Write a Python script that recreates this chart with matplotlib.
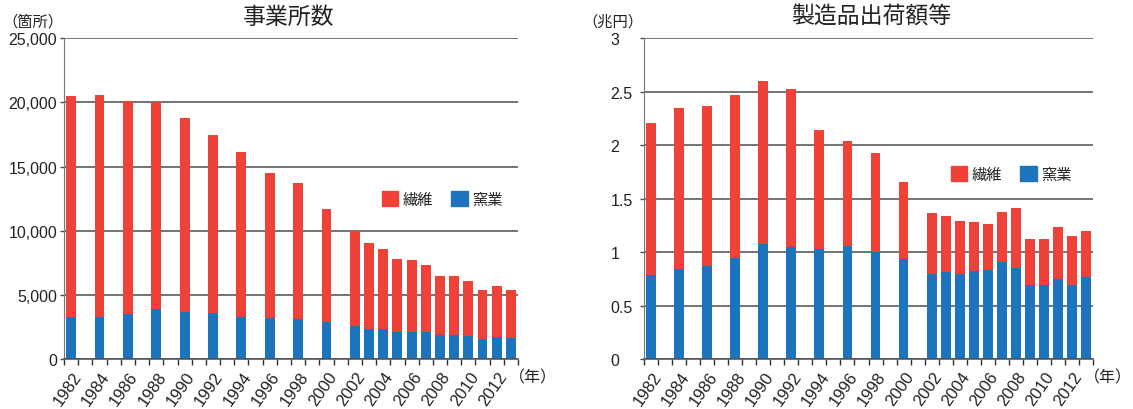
import matplotlib.pyplot as plt
import matplotlib.transforms as mtransforms
from matplotlib.patches import Patch
from matplotlib.ticker import FuncFormatter

plt.rcParams['font.family'] = ['Liberation Sans', 'Noto Sans CJK JP']
CJK = ['Noto Sans CJK JP', 'DejaVu Sans']

years = [1982, 1984, 1986, 1988, 1990, 1992, 1994, 1996, 1998, 2000,
         2002, 2003, 2004, 2005, 2006, 2007, 2008, 2009, 2010, 2011, 2012, 2013]

# 事業所数 (箇所)
est_ceramic = [3300, 3300, 3500, 3920, 3660, 3610, 3300, 3200, 3140, 2880,
               2570, 2360, 2360, 2100, 2100, 2100, 1890, 1890, 1790, 1580, 1740, 1640]
est_textile = [17200, 17300, 16600, 16080, 15140, 13840, 12850, 11300, 10560, 8820,
               7380, 6690, 6210, 5700, 5620, 5230, 4610, 4610, 4290, 3800, 3980, 3740]

# 製造品出荷額等 (兆円)
ship_ceramic = [0.79, 0.845, 0.87, 0.945, 1.075, 1.05, 1.03, 1.055, 1.0, 0.94,
                0.795, 0.815, 0.795, 0.825, 0.835, 0.907, 0.85, 0.692, 0.692, 0.748, 0.692, 0.767]
ship_textile = [1.42, 1.505, 1.50, 1.525, 1.525, 1.475, 1.11, 0.985, 0.925, 0.715,
                0.57, 0.523, 0.495, 0.457, 0.428, 0.468, 0.562, 0.433, 0.433, 0.487, 0.458, 0.43]

label_years = list(range(1982, 2013, 2))
series_names = ['繊維', '窯業']

red = '#EE4137'
blue = '#1C75BC'
grid_c = '#4d4d4d'
text_c = '#222222'

W, H = 1133, 410
fig = plt.figure(figsize=(W / 100, H / 100), dpi=100)


def px_axes(x0, x1, y0, y1):
    return fig.add_axes([x0 / W, 1 - y1 / H, (x1 - x0) / W, (y1 - y0) / H])


def setup(ax, ceramic, textile, ymax, yticks, fmt, title, unit, title_x, unit_x,
          leg_x, leg_y, right_labels):
    ax.bar(years, ceramic, width=0.7, color=blue, zorder=3)
    ax.bar(years, textile, width=0.7, bottom=ceramic, color=red, zorder=3)
    ax.set_xlim(1981.5, 2013.5)
    ax.set_ylim(0, ymax)
    ax.set_yticks(yticks)
    ax.yaxis.set_major_formatter(FuncFormatter(fmt))
    ax.grid(axis='y', color=grid_c, linewidth=1.1, zorder=1)
    for s in ['top', 'right']:
        ax.spines[s].set_visible(False)
    ax.spines['left'].set_color('#777777')
    ax.spines['bottom'].set_color(grid_c)
    ax.spines['bottom'].set_linewidth(1.1)
    ax.spines['bottom'].set_zorder(4)
    ax.set_xticks(label_years)
    ax.set_xticks([y + 0.5 for y in range(1981, 2014)], minor=True)
    ax.tick_params(axis='x', which='major', length=0, pad=10, labelsize=12)
    ax.tick_params(axis='x', which='minor', length=4, width=1, color='#333333')
    ax.tick_params(axis='y', length=3, width=1, color=grid_c, labelsize=11.5,
                   pad=21 if right_labels else 2, labelcolor=text_c)
    shift = mtransforms.ScaledTranslation(7 / 100, 0, fig.dpi_scale_trans)
    for lab in ax.get_xticklabels():
        lab.set_rotation(55)
        lab.set_ha('right')
        lab.set_va('center')
        lab.set_rotation_mode('anchor')
        lab.set_color(text_c)
        lab.set_transform(lab.get_transform() + shift)
    if right_labels:
        for lab in ax.get_yticklabels():
            lab.set_ha('left')
    fig.text(title_x / W, 1 - 17 / H, title, fontsize=16.5, ha='center', va='center',
             color=text_c, family=CJK)
    fig.text(unit_x / W, 1 - 22 / H, unit, fontsize=11, ha='left', va='center',
             color=text_c, family=CJK)
    yr_off = mtransforms.ScaledTranslation(15 / 100, -18 / 100, fig.dpi_scale_trans)
    ax.text(1.0, 0.0, '（年）', transform=ax.transAxes + yr_off, fontsize=11.5,
            ha='center', va='center', color=text_c, family=CJK)
    handles = [Patch(color=red), Patch(color=blue)]
    ax.legend(handles, series_names, ncol=2, frameon=False, loc='center left',
              bbox_to_anchor=(leg_x / W, 1 - leg_y / H), bbox_transform=fig.transFigure,
              fontsize=11, handlelength=1.05, handleheight=1.05, handletextpad=0.3,
              columnspacing=1.2, borderpad=0, borderaxespad=0, labelcolor=text_c)


ax1 = px_axes(64, 518, 39.3, 360)
ax2 = px_axes(644, 1093, 39.3, 360)

setup(ax1, est_ceramic, est_textile, 25000, range(0, 25001, 5000),
      lambda v, p: f'{int(v):,}', '事業所数', '（箇所）', 289, 2, 382, 200, False)
setup(ax2, ship_ceramic, ship_textile, 3, [0, 0.5, 1, 1.5, 2, 2.5, 3],
      lambda v, p: f'{v:g}', '製造品出荷額等', '（兆円）', 871, 582, 951, 175, True)

fig.savefig('out.png', dpi=100)
